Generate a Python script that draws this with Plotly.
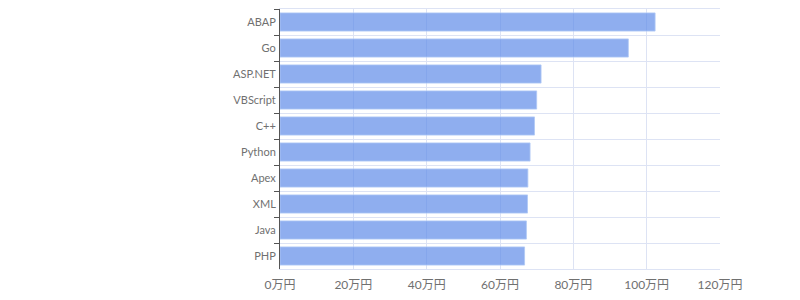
import plotly.graph_objects as go

languages = ["ABAP", "Go", "ASP.NET", "VBScript", "C++", "Python", "Apex", "XML", "Java", "PHP"]
salaries = [102.3, 95.0, 71.2, 70.0, 69.4, 68.2, 67.6, 67.5, 67.2, 66.7]
x_ticks = [0, 20, 40, 60, 80, 100, 120]
x_tick_labels = [f"{v}万円" for v in x_ticks]

fig = go.Figure(go.Bar(
    x=salaries,
    y=languages,
    orientation="h",
    marker=dict(color="rgba(95,140,232,0.7)",
                line=dict(color="rgba(175,200,245,0.8)", width=1)),
    hoverinfo="x+y",
))

font_family = "Lato, 'Noto Sans CJK JP', sans-serif"
fig.update_layout(
    width=800, height=300,
    margin=dict(l=280, r=80, t=8, b=30),
    plot_bgcolor="white", paper_bgcolor="white",
    bargap=0.3,
    showlegend=False,
    font=dict(family=font_family, color="#707070"),
)
fig.update_xaxes(
    range=[0, 120], tickvals=x_ticks, ticktext=x_tick_labels,
    showgrid=True, gridcolor="#dde3f4", gridwidth=1,
    zeroline=False, showline=True, linecolor="#dde3f4", linewidth=1,
    ticks="", tickfont=dict(size=12, color="#707070"),
    ticklabelstandoff=5,
    mirror=True, fixedrange=True,
)
fig.update_yaxes(
    categoryorder="array", categoryarray=languages, autorange="reversed",
    tickson="boundaries", ticks="outside", ticklen=5, tickcolor="#555555",
    showgrid=True, gridcolor="#dde3f4", gridwidth=1,
    showline=True, linecolor="#555555", linewidth=1,
    ticklabelstandoff=1,
    tickfont=dict(size=11, color="#707070"), fixedrange=True,
)

fig.write_html("out.html")
